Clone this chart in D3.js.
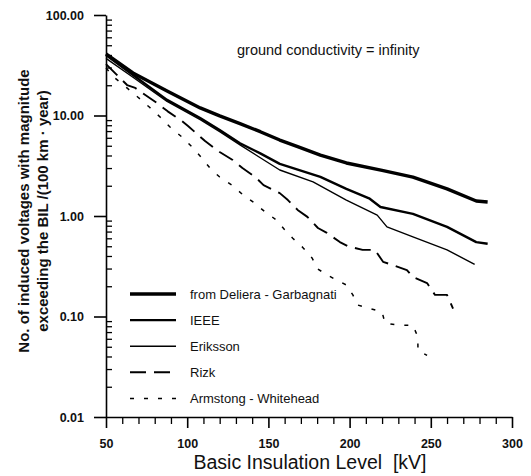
<!DOCTYPE html>
<html>
<head>
<meta charset="utf-8">
<script src="https://cdn.jsdelivr.net/npm/d3@7"></script>
<style>
  body { margin: 0; background: #fff; }
  text { font-family: "Liberation Sans", Arial, sans-serif; }
</style>
</head>
<body>
<div id="chart"></div>
<script>
// 数据：每条曲线的 BIL (kV) 与 对应次数
var seriesNames = ["from Deliera - Garbagnati", "IEEE", "Eriksson", "Rizk", "Armstong - Whitehead"];

var delieraX = [50, 66.6, 87.6, 108, 120, 132.5, 145, 157, 168, 182, 198, 220, 239, 260, 278, 285];
var delieraY = [41, 26.5, 17.5, 11.9, 9.9, 8.3, 6.9, 5.7, 4.9, 4.04, 3.37, 2.84, 2.44, 1.86, 1.41, 1.38];

var ieeeX = [50, 66.6, 87.6, 108, 120, 132.5, 145, 157, 182, 198, 212, 219, 239, 260, 278, 285];
var ieeeY = [40, 25.3, 14.3, 9.44, 7.17, 5.3, 4.2, 3.3, 2.45, 1.86, 1.5, 1.23, 1.05, 0.78, 0.55, 0.53];

var erikssonX = [50, 66.6, 87.6, 108, 120, 132.5, 145, 157, 177.5, 198, 217, 223, 239, 260, 277];
var erikssonY = [37, 24, 13.8, 9.1, 6.9, 5.1, 3.8, 2.87, 2.19, 1.44, 1.02, 0.78, 0.62, 0.46, 0.33];

var rizkX = [50, 63, 68, 81.4, 88, 96.8, 100.5, 111, 120, 128, 134, 142, 147, 157, 162, 168, 174, 180.5, 186, 194, 199, 208, 215.6, 220.6, 226.7, 235.3, 239, 247.7, 252.6, 260, 263.7];
var rizkY = [32.5, 20.1, 18.8, 13.3, 11.0, 8.8, 7.87, 5.57, 4.33, 3.61, 3.0, 2.44, 2.03, 1.69, 1.44, 1.15, 0.98, 0.76, 0.68, 0.55, 0.50, 0.46, 0.46, 0.35, 0.325, 0.29, 0.247, 0.215, 0.164, 0.164, 0.12];

var armX = [50, 55.5, 62.9, 69.7, 77, 83.3, 89.4, 96.8, 103, 109, 114, 120, 127.6, 134.4, 140.5, 148, 155, 160, 165, 171, 177, 180, 186, 192, 198, 202, 205, 212.6, 220, 221.8, 229.8, 239, 242, 242.1, 247.7];
var armY = [29.7, 23.6, 18.8, 15.2, 12.0, 9.66, 7.69, 6.1, 4.86, 3.78, 3.0, 2.44, 2.03, 1.62, 1.38, 1.10, 0.91, 0.73, 0.60, 0.49, 0.38, 0.30, 0.26, 0.23, 0.206, 0.164, 0.13, 0.12, 0.111, 0.086, 0.082, 0.082, 0.0625, 0.046, 0.041];

var xMajor = [50, 100, 150, 200, 250, 300];
var yMajor = [100, 10, 1, 0.1, 0.01];

var seriesData = [
  { name: seriesNames[0], x: delieraX, y: delieraY, w: 3.4, dash: null },
  { name: seriesNames[1], x: ieeeX, y: ieeeY, w: 2.4, dash: null },
  { name: seriesNames[2], x: erikssonX, y: erikssonY, w: 1.4, dash: null },
  { name: seriesNames[3], x: rizkX, y: rizkY, w: 1.9, dash: "16,8" },
  { name: seriesNames[4], x: armX, y: armY, w: 1.5, dash: "4,10" }
];

var W = 531, H = 476;
var margin = { top: 15, right: 19, bottom: 59, left: 106 };
var width = W - margin.left - margin.right;
var height = H - margin.top - margin.bottom;

var svg = d3.select("#chart").append("svg")
  .attr("width", W)
  .attr("height", H);

var plot = svg.append("g")
  .attr("transform", `translate(${margin.left}, ${margin.top})`);

var xScale = d3.scaleLinear().domain([50, 300]).range([0, width]);
var yScale = d3.scaleLog().domain([0.01, 100]).range([height, 0]);

// 次刻度
var xMinor = d3.range(50, 301, 10).filter(d => xMajor.indexOf(d) < 0);
var yMinor = [];
[0.01, 0.1, 1, 10].forEach(function (dec) {
  for (var k = 2; k <= 9; k++) yMinor.push(dec * k);
});

// x 轴
plot.append("g")
  .attr("transform", `translate(0, ${height})`)
  .call(d3.axisBottom(xScale).tickValues(xMinor).tickSize(7).tickFormat(""))
  .call(g => g.select(".domain").remove())
  .call(g => g.selectAll("line").attr("stroke-width", 1.3));

plot.append("g")
  .attr("transform", `translate(0, ${height})`)
  .call(d3.axisBottom(xScale).tickValues(xMajor).tickSize(11).tickSizeOuter(0).tickPadding(11))
  .call(g => g.select(".domain").attr("stroke-width", 1.6))
  .call(g => g.selectAll("line").attr("stroke-width", 1.6))
  .call(g => g.selectAll("text").attr("font-size", 12.5).attr("font-weight", "bold").attr("fill", "#111"));

// y 轴
plot.append("g")
  .call(d3.axisLeft(yScale).tickValues(yMinor).tickSize(-6).tickFormat(""))
  .call(g => g.select(".domain").remove())
  .call(g => g.selectAll("line").attr("stroke-width", 1.3));

plot.append("g")
  .call(d3.axisLeft(yScale).tickValues(yMajor).tickSize(12).tickSizeOuter(0).tickPadding(10).tickFormat(d3.format(".2f")))
  .call(g => g.select(".domain").attr("stroke-width", 1.6))
  .call(g => g.selectAll("line").attr("stroke-width", 1.6))
  .call(g => g.selectAll("text").attr("font-size", 12.5).attr("font-weight", "bold").attr("fill", "#111"));

// 曲线
var line = d3.line()
  .x(d => xScale(d[0]))
  .y(d => yScale(d[1]));

plot.selectAll("path.curve")
  .data(seriesData)
  .join("path")
  .attr("class", "curve")
  .attr("d", s => line(s.x.map((v, i) => [v, s.y[i]])))
  .attr("fill", "none")
  .attr("stroke", "#000")
  .attr("stroke-width", s => s.w)
  .attr("stroke-dasharray", s => s.dash)
  .attr("stroke-linejoin", "round");

// 图例
var legend = svg.append("g").attr("transform", "translate(130, 294)");
var item = legend.selectAll("g")
  .data(seriesData)
  .join("g")
  .attr("transform", (d, i) => `translate(0, ${i * 26.1})`);
item.append("line")
  .attr("x1", 0).attr("x2", 46)
  .attr("stroke", "#000")
  .attr("stroke-width", d => d.w)
  .attr("stroke-dasharray", d => d.dash);
item.append("text")
  .attr("x", 60)
  .attr("dy", "0.35em")
  .attr("font-size", 13)
  .attr("fill", "#111")
  .text(d => d.name);

// 注释
svg.append("text")
  .attr("x", 237).attr("y", 55)
  .attr("font-size", 14.5)
  .attr("fill", "#111")
  .text("ground conductivity = infinity");

// 轴标题
svg.append("text")
  .attr("x", 310)
  .attr("y", 469)
  .attr("text-anchor", "middle")
  .attr("font-size", 19.5)
  .attr("fill", "#111")
  .text("Basic Insulation Level\u00a0\u00a0[kV]");

var yt = svg.append("g").attr("transform", "translate(0, 211) rotate(-90)");
yt.append("text")
  .attr("x", 0).attr("y", 29)
  .attr("text-anchor", "middle")
  .attr("font-size", 15)
  .attr("font-weight", "bold")
  .attr("fill", "#111")
  .text("No. of induced voltages with magnitude");
yt.append("text")
  .attr("x", 0).attr("y", 48)
  .attr("text-anchor", "middle")
  .attr("font-size", 15)
  .attr("font-weight", "bold")
  .attr("fill", "#111")
  .text("exceeding the BIL /(100 km · year)");
</script>
</body>
</html>
